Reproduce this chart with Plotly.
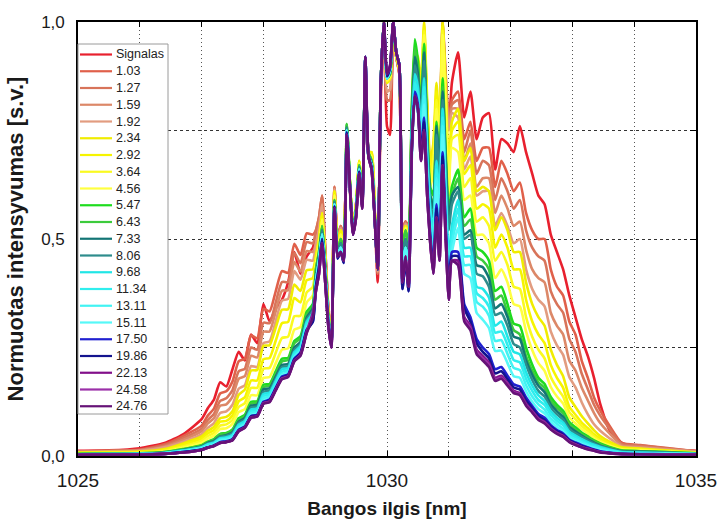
import plotly.graph_objects as go

# Wavelength grid [nm]
wavelength = [1025.0, 1025.5, 1026.0, 1026.4, 1026.7,
              1027.0, 1027.1, 1027.2, 1027.3, 1027.4, 1027.5, 1027.6, 1027.7, 1027.8, 1027.9,
              1028.0, 1028.1, 1028.2, 1028.3, 1028.4, 1028.5, 1028.6, 1028.7, 1028.8,
              1028.85, 1028.9, 1028.95, 1029.0, 1029.05, 1029.1, 1029.15, 1029.2, 1029.25, 1029.3,
              1029.35, 1029.4, 1029.45, 1029.5, 1029.55, 1029.6, 1029.65, 1029.7, 1029.75, 1029.8,
              1029.85, 1029.9, 1029.95, 1030.0, 1030.05, 1030.1, 1030.15, 1030.2, 1030.25, 1030.3,
              1030.35, 1030.4, 1030.45, 1030.5, 1030.55, 1030.6, 1030.65, 1030.7, 1030.75, 1030.8,
              1030.85, 1030.9, 1030.95, 1031.0, 1031.05,
              1031.15, 1031.25, 1031.35, 1031.45, 1031.55, 1031.65, 1031.75, 1031.85, 1031.95,
              1032.05, 1032.15, 1032.25, 1032.35, 1032.45, 1032.55, 1032.65, 1032.75, 1032.85,
              1032.95, 1033.05, 1033.15, 1033.25, 1033.35, 1033.45,
              1033.6, 1033.8, 1034.1, 1034.5, 1035.0]

# Normalised intensity of each spectrum
i_signalas = [0.012, 0.013, 0.018, 0.03, 0.05, 0.085, 0.11, 0.13, 0.17, 0.16, 0.20, 0.24, 0.22, 0.28, 0.26, 0.35, 0.31, 0.34, 0.36, 0.40, 0.47, 0.42, 0.46, 0.48,
              0.51, 0.54, 0.58, 0.47, 0.34, 0.27, 0.61, 0.50, 0.53, 0.50, 0.72, 0.61, 0.53, 0.57, 0.65, 0.60, 0.88, 0.70, 0.68, 0.55, 0.40, 0.82, 1.0, 0.76, 0.74, 1.0, 0.92, 0.88, 0.52, 0.54, 0.53,
              0.74, 0.85, 0.84, 0.82, 0.93, 0.78, 0.66, 0.68, 0.80, 0.74, 0.95, 0.85, 0.76, 0.86,
              0.93, 0.78, 0.84, 0.73, 0.78, 0.79, 0.66, 0.73, 0.72, 0.70, 0.76, 0.70, 0.65, 0.60, 0.58, 0.51, 0.47, 0.43, 0.37, 0.32, 0.27, 0.23, 0.18, 0.12, 0.06, 0.03, 0.02, 0.015, 0.012]
i_103 = [0.010, 0.012, 0.015, 0.027, 0.046, 0.07, 0.093, 0.109, 0.144, 0.149, 0.172, 0.218, 0.224, 0.278, 0.271, 0.339, 0.333, 0.38, 0.426, 0.422, 0.489, 0.463, 0.513, 0.51,
         0.52, 0.55, 0.60, 0.48, 0.34, 0.27, 0.62, 0.50, 0.53, 0.51, 0.73, 0.62, 0.53, 0.58, 0.66, 0.60, 0.89, 0.70, 0.69, 0.56, 0.42, 0.85, 1.0, 0.82, 0.82, 1.0, 0.92, 0.88, 0.52, 0.54, 0.53,
         0.76, 0.88, 0.87, 0.84, 0.96, 0.80, 0.67, 0.70, 0.83, 0.76, 1.0, 0.88, 0.78, 0.82,
         0.84, 0.73, 0.77, 0.68, 0.71, 0.71, 0.62, 0.68, 0.65, 0.61, 0.63, 0.56, 0.52, 0.50, 0.50, 0.43, 0.39, 0.37, 0.31, 0.28, 0.22, 0.18, 0.135, 0.105, 0.07, 0.03, 0.025, 0.019, 0.011]
i_127 = [0.010, 0.012, 0.014, 0.024, 0.041, 0.063, 0.083, 0.097, 0.127, 0.133, 0.152, 0.195, 0.201, 0.25, 0.245, 0.307, 0.306, 0.354, 0.401, 0.401, 0.468, 0.444, 0.493, 0.49,
         0.52, 0.55, 0.60, 0.48, 0.34, 0.27, 0.62, 0.50, 0.53, 0.51, 0.73, 0.62, 0.53, 0.58, 0.66, 0.60, 0.89, 0.70, 0.69, 0.56, 0.42, 0.85, 1.0, 0.82, 0.82, 1.0, 0.92, 0.88, 0.52, 0.54, 0.53,
         0.75, 0.87, 0.86, 0.83, 0.95, 0.79, 0.66, 0.69, 0.82, 0.75, 0.99, 0.87, 0.77, 0.81,
         0.82, 0.70, 0.75, 0.65, 0.68, 0.67, 0.59, 0.64, 0.61, 0.57, 0.59, 0.52, 0.48, 0.46, 0.45, 0.38, 0.35, 0.33, 0.27, 0.24, 0.19, 0.154, 0.118, 0.093, 0.063, 0.028, 0.024, 0.018, 0.011]
i_159 = [0.009, 0.011, 0.013, 0.022, 0.037, 0.057, 0.075, 0.087, 0.116, 0.119, 0.137, 0.178, 0.184, 0.231, 0.227, 0.286, 0.287, 0.334, 0.381, 0.382, 0.447, 0.425, 0.472, 0.47,
         0.49, 0.525, 0.58, 0.47, 0.335, 0.27, 0.615, 0.495, 0.525, 0.505, 0.74, 0.625, 0.53, 0.58, 0.67, 0.60, 0.895, 0.70, 0.695, 0.565, 0.425, 0.855, 1.0, 0.84, 0.845, 1.0, 0.92, 0.885, 0.51, 0.535, 0.525,
         0.74, 0.86, 0.85, 0.82, 0.94, 0.78, 0.65, 0.68, 0.81, 0.74, 0.98, 0.86, 0.76, 0.80,
         0.80, 0.68, 0.72, 0.62, 0.64, 0.64, 0.56, 0.60, 0.57, 0.53, 0.54, 0.475, 0.43, 0.41, 0.40, 0.33, 0.30, 0.28, 0.22, 0.197, 0.158, 0.128, 0.099, 0.076, 0.052, 0.025, 0.021, 0.016, 0.010]
i_192 = [0.009, 0.010, 0.012, 0.02, 0.033, 0.05, 0.065, 0.076, 0.099, 0.103, 0.118, 0.155, 0.163, 0.207, 0.205, 0.26, 0.264, 0.311, 0.358, 0.362, 0.426, 0.406, 0.452, 0.45,
         0.49, 0.525, 0.58, 0.47, 0.335, 0.27, 0.615, 0.495, 0.525, 0.505, 0.74, 0.625, 0.53, 0.58, 0.67, 0.60, 0.895, 0.70, 0.695, 0.565, 0.425, 0.855, 1.0, 0.84, 0.845, 1.0, 0.92, 0.885, 0.51, 0.535, 0.525,
         0.73, 0.85, 0.84, 0.81, 0.93, 0.77, 0.64, 0.67, 0.80, 0.73, 0.97, 0.85, 0.75, 0.79,
         0.78, 0.66, 0.69, 0.60, 0.61, 0.61, 0.53, 0.56, 0.53, 0.49, 0.50, 0.43, 0.385, 0.36, 0.345, 0.287, 0.255, 0.233, 0.182, 0.158, 0.124, 0.096, 0.073, 0.058, 0.041, 0.022, 0.019, 0.015, 0.010]
i_234 = [0.008, 0.009, 0.010, 0.016, 0.029, 0.045, 0.058, 0.067, 0.087, 0.09, 0.103, 0.141, 0.153, 0.197, 0.198, 0.254, 0.255, 0.296, 0.337, 0.338, 0.395, 0.38, 0.428, 0.43,
         0.46, 0.50, 0.56, 0.46, 0.33, 0.27, 0.61, 0.49, 0.52, 0.50, 0.75, 0.63, 0.53, 0.58, 0.68, 0.60, 0.90, 0.70, 0.70, 0.57, 0.43, 0.86, 1.0, 0.86, 0.87, 1.0, 0.92, 0.89, 0.50, 0.53, 0.52,
         0.79, 0.93, 0.92, 0.86, 1.0, 0.82, 0.68, 0.72, 0.86, 0.76, 1.0, 0.85, 0.66, 0.77,
         0.80, 0.68, 0.71, 0.61, 0.62, 0.61, 0.52, 0.55, 0.52, 0.47, 0.47, 0.40, 0.35, 0.32, 0.30, 0.245, 0.21, 0.184, 0.135, 0.113, 0.092, 0.075, 0.059, 0.046, 0.033, 0.02, 0.017, 0.013, 0.008]
i_292 = [0.007, 0.008, 0.009, 0.014, 0.026, 0.04, 0.052, 0.06, 0.079, 0.081, 0.093, 0.126, 0.135, 0.174, 0.174, 0.223, 0.226, 0.266, 0.306, 0.309, 0.364, 0.354, 0.405, 0.41,
         0.46, 0.50, 0.56, 0.46, 0.33, 0.27, 0.61, 0.49, 0.52, 0.50, 0.75, 0.63, 0.53, 0.58, 0.68, 0.60, 0.90, 0.70, 0.70, 0.57, 0.43, 0.86, 1.0, 0.86, 0.87, 1.0, 0.92, 0.89, 0.50, 0.53, 0.52,
         0.77, 0.91, 0.90, 0.84, 0.99, 0.80, 0.66, 0.70, 0.84, 0.74, 0.99, 0.83, 0.64, 0.75,
         0.77, 0.65, 0.67, 0.57, 0.58, 0.57, 0.48, 0.51, 0.48, 0.43, 0.43, 0.36, 0.31, 0.28, 0.26, 0.21, 0.18, 0.157, 0.113, 0.095, 0.077, 0.064, 0.05, 0.04, 0.029, 0.018, 0.016, 0.012, 0.008]
i_364 = [0.006, 0.007, 0.008, 0.012, 0.022, 0.035, 0.046, 0.053, 0.07, 0.073, 0.083, 0.113, 0.122, 0.157, 0.157, 0.201, 0.203, 0.238, 0.272, 0.275, 0.322, 0.323, 0.377, 0.39,
         0.445, 0.485, 0.545, 0.45, 0.325, 0.265, 0.60, 0.48, 0.51, 0.49, 0.757, 0.63, 0.525, 0.575, 0.675, 0.595, 0.905, 0.70, 0.69, 0.565, 0.43, 0.86, 1.0, 0.865, 0.875, 1.0, 0.925, 0.895, 0.49, 0.525, 0.505,
         0.75, 0.89, 0.88, 0.82, 0.98, 0.78, 0.64, 0.68, 0.82, 0.72, 0.98, 0.81, 0.62, 0.73,
         0.74, 0.62, 0.64, 0.54, 0.55, 0.53, 0.45, 0.47, 0.44, 0.39, 0.385, 0.32, 0.275, 0.245, 0.225, 0.182, 0.157, 0.137, 0.101, 0.085, 0.069, 0.058, 0.045, 0.035, 0.025, 0.016, 0.014, 0.011, 0.007]
i_456 = [0.005, 0.006, 0.007, 0.01, 0.019, 0.03, 0.04, 0.047, 0.062, 0.064, 0.074, 0.101, 0.108, 0.14, 0.14, 0.18, 0.182, 0.214, 0.245, 0.248, 0.291, 0.297, 0.354, 0.37,
         0.445, 0.485, 0.545, 0.45, 0.325, 0.265, 0.60, 0.48, 0.51, 0.49, 0.757, 0.63, 0.525, 0.575, 0.675, 0.595, 0.905, 0.70, 0.69, 0.565, 0.43, 0.86, 1.0, 0.865, 0.875, 1.0, 0.925, 0.895, 0.49, 0.525, 0.505,
         0.73, 0.87, 0.86, 0.80, 0.97, 0.76, 0.62, 0.66, 0.80, 0.70, 0.97, 0.79, 0.60, 0.71,
         0.70, 0.59, 0.60, 0.51, 0.51, 0.49, 0.41, 0.43, 0.40, 0.35, 0.345, 0.287, 0.244, 0.214, 0.196, 0.159, 0.137, 0.121, 0.089, 0.075, 0.062, 0.052, 0.041, 0.032, 0.024, 0.015, 0.013, 0.010, 0.007]
i_547 = [0.005, 0.0055, 0.006, 0.009, 0.016, 0.025, 0.033, 0.039, 0.051, 0.053, 0.061, 0.087, 0.095, 0.125, 0.126, 0.164, 0.166, 0.195, 0.224, 0.226, 0.265, 0.276, 0.332, 0.35,
         0.43, 0.47, 0.53, 0.44, 0.32, 0.26, 0.59, 0.47, 0.50, 0.48, 0.765, 0.63, 0.52, 0.57, 0.67, 0.59, 0.91, 0.70, 0.68, 0.56, 0.43, 0.86, 1.0, 0.87, 0.88, 1.0, 0.93, 0.90, 0.48, 0.52, 0.49,
         0.80, 0.96, 0.91, 0.80, 0.95, 0.76, 0.62, 0.60, 0.77, 0.68, 0.87, 0.70, 0.56, 0.62,
         0.66, 0.55, 0.57, 0.48, 0.47, 0.45, 0.38, 0.39, 0.35, 0.305, 0.30, 0.25, 0.21, 0.18, 0.166, 0.136, 0.118, 0.104, 0.078, 0.066, 0.054, 0.045, 0.036, 0.029, 0.021, 0.013, 0.011, 0.009, 0.006]
i_643 = [0.005, 0.0055, 0.006, 0.009, 0.015, 0.024, 0.032, 0.037, 0.05, 0.051, 0.059, 0.083, 0.092, 0.121, 0.123, 0.159, 0.162, 0.19, 0.218, 0.221, 0.26, 0.271, 0.326, 0.345,
         0.43, 0.47, 0.53, 0.44, 0.32, 0.26, 0.59, 0.47, 0.50, 0.48, 0.765, 0.63, 0.52, 0.57, 0.67, 0.59, 0.91, 0.70, 0.68, 0.56, 0.43, 0.86, 1.0, 0.87, 0.88, 1.0, 0.93, 0.90, 0.48, 0.52, 0.49,
         0.78, 0.94, 0.89, 0.78, 0.93, 0.74, 0.60, 0.58, 0.75, 0.66, 0.85, 0.68, 0.54, 0.60,
         0.64, 0.53, 0.545, 0.46, 0.45, 0.43, 0.36, 0.37, 0.33, 0.29, 0.28, 0.23, 0.197, 0.17, 0.157, 0.128, 0.111, 0.098, 0.073, 0.061, 0.05, 0.042, 0.034, 0.027, 0.019, 0.012, 0.011, 0.009, 0.006]
i_733 = [0.004, 0.0045, 0.005, 0.008, 0.014, 0.022, 0.03, 0.035, 0.045, 0.048, 0.055, 0.079, 0.088, 0.116, 0.118, 0.154, 0.156, 0.183, 0.21, 0.212, 0.25, 0.263, 0.319, 0.34,
         0.415, 0.46, 0.52, 0.43, 0.315, 0.26, 0.585, 0.465, 0.49, 0.47, 0.757, 0.625, 0.515, 0.565, 0.665, 0.585, 0.915, 0.695, 0.675, 0.555, 0.43, 0.86, 1.0, 0.87, 0.885, 1.0, 0.93, 0.90, 0.46, 0.50, 0.47,
         0.77, 0.92, 0.88, 0.78, 0.93, 0.73, 0.60, 0.57, 0.76, 0.66, 0.84, 0.68, 0.54, 0.60,
         0.62, 0.51, 0.52, 0.44, 0.435, 0.41, 0.34, 0.35, 0.32, 0.275, 0.27, 0.22, 0.187, 0.162, 0.147, 0.119, 0.103, 0.09, 0.067, 0.057, 0.047, 0.038, 0.031, 0.024, 0.017, 0.011, 0.01, 0.008, 0.005]
i_806 = [0.004, 0.0045, 0.005, 0.008, 0.013, 0.021, 0.029, 0.033, 0.044, 0.046, 0.053, 0.076, 0.084, 0.112, 0.114, 0.148, 0.151, 0.178, 0.205, 0.207, 0.244, 0.258, 0.314, 0.335,
         0.415, 0.46, 0.52, 0.43, 0.315, 0.26, 0.585, 0.465, 0.49, 0.47, 0.757, 0.625, 0.515, 0.565, 0.665, 0.585, 0.915, 0.695, 0.675, 0.555, 0.43, 0.86, 1.0, 0.87, 0.885, 1.0, 0.93, 0.90, 0.46, 0.50, 0.47,
         0.75, 0.90, 0.86, 0.76, 0.91, 0.71, 0.58, 0.55, 0.74, 0.64, 0.82, 0.66, 0.52, 0.58,
         0.61, 0.50, 0.51, 0.42, 0.414, 0.39, 0.325, 0.33, 0.30, 0.258, 0.25, 0.21, 0.175, 0.15, 0.137, 0.112, 0.096, 0.084, 0.062, 0.052, 0.044, 0.036, 0.029, 0.023, 0.017, 0.01, 0.009, 0.007, 0.005]
i_968 = [0.004, 0.0045, 0.005, 0.007, 0.013, 0.02, 0.027, 0.031, 0.041, 0.043, 0.049, 0.072, 0.081, 0.107, 0.11, 0.143, 0.146, 0.173, 0.20, 0.203, 0.239, 0.254, 0.309, 0.33,
         0.40, 0.45, 0.51, 0.42, 0.31, 0.26, 0.58, 0.46, 0.48, 0.46, 0.75, 0.62, 0.51, 0.56, 0.66, 0.58, 0.92, 0.69, 0.67, 0.55, 0.43, 0.86, 1.0, 0.87, 0.89, 1.0, 0.93, 0.90, 0.44, 0.48, 0.45,
         0.74, 0.88, 0.85, 0.75, 0.87, 0.70, 0.57, 0.52, 0.68, 0.60, 0.80, 0.62, 0.46, 0.53,
         0.59, 0.48, 0.48, 0.39, 0.385, 0.365, 0.30, 0.31, 0.275, 0.24, 0.234, 0.193, 0.162, 0.14, 0.127, 0.103, 0.088, 0.077, 0.056, 0.047, 0.039, 0.032, 0.026, 0.021, 0.015, 0.009, 0.008, 0.007, 0.005]
i_1134 = [0.004, 0.0045, 0.005, 0.007, 0.012, 0.019, 0.026, 0.029, 0.039, 0.04, 0.046, 0.068, 0.077, 0.103, 0.105, 0.138, 0.142, 0.168, 0.194, 0.198, 0.234, 0.249, 0.304, 0.325,
          0.40, 0.45, 0.51, 0.42, 0.31, 0.26, 0.58, 0.46, 0.48, 0.46, 0.75, 0.62, 0.51, 0.56, 0.66, 0.58, 0.92, 0.69, 0.67, 0.55, 0.43, 0.86, 1.0, 0.87, 0.89, 1.0, 0.93, 0.90, 0.44, 0.48, 0.45,
          0.72, 0.86, 0.83, 0.73, 0.85, 0.68, 0.55, 0.50, 0.66, 0.58, 0.78, 0.60, 0.44, 0.51,
          0.57, 0.46, 0.46, 0.375, 0.364, 0.344, 0.284, 0.287, 0.256, 0.221, 0.216, 0.178, 0.15, 0.129, 0.118, 0.095, 0.081, 0.071, 0.051, 0.043, 0.035, 0.028, 0.023, 0.018, 0.013, 0.008, 0.007, 0.006, 0.004]
i_1311 = [0.003, 0.0035, 0.004, 0.006, 0.011, 0.018, 0.023, 0.028, 0.037, 0.039, 0.044, 0.065, 0.074, 0.099, 0.101, 0.133, 0.137, 0.163, 0.189, 0.193, 0.229, 0.244, 0.299, 0.32,
          0.40, 0.45, 0.51, 0.42, 0.31, 0.26, 0.58, 0.46, 0.48, 0.46, 0.75, 0.62, 0.51, 0.56, 0.66, 0.58, 0.92, 0.69, 0.67, 0.55, 0.43, 0.86, 1.0, 0.87, 0.89, 1.0, 0.93, 0.90, 0.44, 0.48, 0.45,
          0.70, 0.84, 0.81, 0.71, 0.83, 0.66, 0.53, 0.48, 0.64, 0.56, 0.76, 0.58, 0.42, 0.49,
          0.55, 0.44, 0.44, 0.355, 0.344, 0.323, 0.265, 0.267, 0.235, 0.203, 0.198, 0.163, 0.137, 0.119, 0.107, 0.086, 0.074, 0.063, 0.046, 0.038, 0.031, 0.025, 0.02, 0.016, 0.012, 0.007, 0.006, 0.005, 0.004]
i_1511 = [0.003, 0.0035, 0.004, 0.006, 0.010, 0.017, 0.022, 0.026, 0.036, 0.037, 0.042, 0.062, 0.071, 0.094, 0.098, 0.127, 0.133, 0.159, 0.186, 0.19, 0.227, 0.241, 0.295, 0.315,
          0.40, 0.45, 0.51, 0.42, 0.31, 0.26, 0.58, 0.46, 0.48, 0.46, 0.75, 0.62, 0.51, 0.56, 0.66, 0.58, 0.92, 0.69, 0.67, 0.55, 0.43, 0.86, 1.0, 0.87, 0.89, 1.0, 0.93, 0.90, 0.44, 0.48, 0.45,
          0.68, 0.82, 0.79, 0.69, 0.81, 0.64, 0.51, 0.46, 0.62, 0.54, 0.74, 0.56, 0.40, 0.47,
          0.525, 0.42, 0.41, 0.33, 0.314, 0.295, 0.242, 0.243, 0.214, 0.184, 0.18, 0.149, 0.125, 0.108, 0.098, 0.079, 0.067, 0.057, 0.041, 0.034, 0.028, 0.023, 0.018, 0.014, 0.01, 0.006, 0.0055, 0.005, 0.004]
i_1750 = [0.003, 0.0035, 0.004, 0.005, 0.009, 0.015, 0.02, 0.024, 0.032, 0.034, 0.039, 0.06, 0.068, 0.092, 0.095, 0.125, 0.13, 0.157, 0.183, 0.188, 0.224, 0.238, 0.291, 0.31,
          0.39, 0.435, 0.50, 0.41, 0.305, 0.255, 0.575, 0.455, 0.47, 0.445, 0.745, 0.62, 0.51, 0.555, 0.655, 0.575, 0.92, 0.69, 0.665, 0.55, 0.43, 0.86, 1.0, 0.875, 0.895, 1.0, 0.93, 0.90, 0.385, 0.45, 0.38,
          0.71, 0.84, 0.81, 0.70, 0.78, 0.63, 0.51, 0.44, 0.58, 0.48, 0.70, 0.53, 0.39, 0.47,
          0.47, 0.35, 0.32, 0.27, 0.25, 0.235, 0.20, 0.205, 0.185, 0.165, 0.16, 0.135, 0.115, 0.097, 0.088, 0.071, 0.06, 0.052, 0.038, 0.031, 0.025, 0.02, 0.015, 0.011, 0.008, 0.005, 0.0045, 0.004, 0.003]
i_1986 = [0.003, 0.0035, 0.004, 0.005, 0.009, 0.015, 0.02, 0.024, 0.031, 0.033, 0.038, 0.059, 0.067, 0.091, 0.094, 0.123, 0.128, 0.155, 0.181, 0.186, 0.222, 0.236, 0.289, 0.31,
          0.39, 0.435, 0.50, 0.41, 0.305, 0.255, 0.575, 0.455, 0.47, 0.445, 0.745, 0.62, 0.51, 0.555, 0.655, 0.575, 0.92, 0.69, 0.665, 0.55, 0.43, 0.86, 1.0, 0.875, 0.895, 1.0, 0.93, 0.90, 0.385, 0.45, 0.38,
          0.70, 0.83, 0.80, 0.69, 0.77, 0.62, 0.50, 0.43, 0.57, 0.47, 0.69, 0.52, 0.38, 0.46,
          0.46, 0.34, 0.31, 0.26, 0.24, 0.225, 0.19, 0.195, 0.177, 0.158, 0.153, 0.128, 0.11, 0.092, 0.083, 0.068, 0.057, 0.049, 0.036, 0.029, 0.023, 0.018, 0.014, 0.01, 0.007, 0.005, 0.004, 0.0035, 0.003]
i_2213 = [0.003, 0.003, 0.003, 0.005, 0.008, 0.014, 0.019, 0.023, 0.030, 0.032, 0.037, 0.058, 0.066, 0.089, 0.092, 0.122, 0.126, 0.153, 0.179, 0.184, 0.22, 0.233, 0.286, 0.33,
          0.38, 0.42, 0.49, 0.40, 0.30, 0.25, 0.57, 0.46, 0.47, 0.45, 0.74, 0.62, 0.51, 0.55, 0.65, 0.57, 0.92, 0.69, 0.66, 0.55, 0.43, 0.86, 1.0, 0.88, 0.90, 1.0, 0.93, 0.90, 0.40, 0.46, 0.39,
          0.70, 0.83, 0.80, 0.68, 0.75, 0.60, 0.49, 0.42, 0.55, 0.45, 0.67, 0.50, 0.36, 0.45,
          0.45, 0.32, 0.30, 0.245, 0.23, 0.215, 0.18, 0.185, 0.168, 0.15, 0.145, 0.121, 0.104, 0.087, 0.079, 0.064, 0.054, 0.047, 0.034, 0.027, 0.021, 0.017, 0.013, 0.009, 0.007, 0.005, 0.004, 0.003, 0.003]
i_2458 = [0.002, 0.003, 0.003, 0.005, 0.008, 0.014, 0.019, 0.023, 0.03, 0.032, 0.037, 0.057, 0.065, 0.088, 0.091, 0.121, 0.125, 0.152, 0.178, 0.183, 0.218, 0.232, 0.284, 0.325,
          0.38, 0.42, 0.49, 0.40, 0.30, 0.25, 0.57, 0.46, 0.47, 0.45, 0.74, 0.62, 0.51, 0.55, 0.65, 0.57, 0.92, 0.69, 0.66, 0.55, 0.43, 0.86, 1.0, 0.88, 0.90, 1.0, 0.93, 0.90, 0.40, 0.46, 0.39,
          0.70, 0.83, 0.80, 0.68, 0.75, 0.60, 0.49, 0.42, 0.55, 0.45, 0.67, 0.50, 0.36, 0.45,
          0.44, 0.315, 0.295, 0.24, 0.225, 0.21, 0.176, 0.181, 0.165, 0.147, 0.142, 0.118, 0.102, 0.085, 0.077, 0.062, 0.052, 0.045, 0.033, 0.026, 0.02, 0.016, 0.012, 0.009, 0.006, 0.004, 0.004, 0.003, 0.003]
i_2476 = [0.002, 0.003, 0.003, 0.005, 0.008, 0.014, 0.019, 0.023, 0.03, 0.032, 0.036, 0.057, 0.065, 0.088, 0.091, 0.12, 0.124, 0.151, 0.177, 0.182, 0.218, 0.231, 0.283, 0.32,
          0.38, 0.42, 0.49, 0.40, 0.30, 0.25, 0.57, 0.46, 0.47, 0.45, 0.74, 0.62, 0.51, 0.55, 0.65, 0.57, 0.92, 0.69, 0.66, 0.55, 0.43, 0.86, 1.0, 0.88, 0.90, 1.0, 0.93, 0.90, 0.40, 0.46, 0.39,
          0.70, 0.83, 0.80, 0.68, 0.75, 0.60, 0.49, 0.42, 0.55, 0.45, 0.67, 0.50, 0.36, 0.45,
          0.44, 0.31, 0.29, 0.235, 0.22, 0.205, 0.173, 0.178, 0.162, 0.145, 0.14, 0.116, 0.10, 0.083, 0.075, 0.061, 0.051, 0.044, 0.032, 0.025, 0.02, 0.015, 0.012, 0.008, 0.006, 0.004, 0.004, 0.003, 0.003]

series_labels = ["Signalas", "1.03", "1.27", "1.59", "1.92", "2.34", "2.92", "3.64", "4.56",
                 "5.47", "6.43", "7.33", "8.06", "9.68", "11.34", "13.11", "15.11",
                 "17.50", "19.86", "22.13", "24.58", "24.76"]
series_values = [i_signalas, i_103, i_127, i_159, i_192, i_234, i_292, i_364, i_456,
                 i_547, i_643, i_733, i_806, i_968, i_1134, i_1311, i_1511,
                 i_1750, i_1986, i_2213, i_2458, i_2476]
series_colors = ["#E8202E", "#E0604A", "#D8745A", "#DC8868", "#E29C80",
                 "#F0EC00", "#F6F400", "#FAFA20", "#FFFF40",
                 "#1EDC1E", "#3CCB3C",
                 "#137575", "#2E8C8C",
                 "#20E6E6", "#30EEEE", "#42F3F3", "#56F8F8",
                 "#2020D0", "#14148E",
                 "#82108A", "#9B30A8", "#661277"]

FONT = "Arial, Liberation Sans, sans-serif"

fig = go.Figure()
for name, vals, col in zip(series_labels, series_values, series_colors):
    fig.add_trace(go.Scatter(x=wavelength, y=vals, name=name, mode="lines",
                             line=dict(color=col, width=2.6, shape="spline", smoothing=0.55),
                             showlegend=False))

# Hand-laid legend box (compact row spacing)
plot_l, plot_r, plot_t, plot_b = 78, 696, 22, 456
def px_x(p):
    return (p - plot_l) / (plot_r - plot_l)
def px_y(p):
    return (plot_b - p) / (plot_b - plot_t)

shapes = [dict(type="rect", xref="paper", yref="paper", layer="above",
               x0=px_x(78), x1=px_x(168), y0=px_y(414), y1=px_y(44),
               fillcolor="white", line=dict(color="#9a9a9a", width=1))]
annotations = []
row0, row_step = 54.5, 16.75
for k, (name, col) in enumerate(zip(series_labels, series_colors)):
    yy = px_y(row0 + k * row_step)
    shapes.append(dict(type="line", xref="paper", yref="paper", layer="above",
                       x0=px_x(80), x1=px_x(112), y0=yy, y1=yy,
                       line=dict(color=col, width=2.2)))
    annotations.append(dict(xref="paper", yref="paper", x=px_x(114), y=yy,
                            text=name, showarrow=False, xanchor="left", yanchor="middle",
                            font=dict(family=FONT, size=12.5, color="#222222")))

fig.update_layout(
    width=718, height=523,
    margin=dict(l=plot_l, r=718 - plot_r, t=plot_t, b=523 - plot_b, autoexpand=False),
    paper_bgcolor="white", plot_bgcolor="white",
    separators=",.",
    showlegend=False,
    font=dict(family=FONT, color="#1a1a1a"),
    shapes=shapes, annotations=annotations,
)
fig.update_xaxes(
    range=[1025, 1035], tick0=1025, dtick=5, tickformat="d", automargin=False,
    tickfont=dict(size=19, family=FONT, color="#1a1a1a"),
    ticks="inside", ticklen=5, tickcolor="black", ticklabelstandoff=6,
    showline=True, linecolor="black", linewidth=1.6, mirror="ticks",
    showgrid=True, gridcolor="#555555", gridwidth=1, griddash="1px,3px",
    minor=dict(dtick=1, tick0=1025, ticks="inside", ticklen=5, tickcolor="black",
               showgrid=True, gridcolor="#555555", gridwidth=1, griddash="1px,3px"),
    zeroline=False,
    title=dict(text="Bangos ilgis [nm]", standoff=12,
               font=dict(family=FONT, size=19, weight="bold", color="#1a1a1a")),
)
fig.update_yaxes(
    range=[0, 1], tick0=0, dtick=0.5, tickformat=".1f", automargin=False,
    tickfont=dict(size=17, family=FONT, color="#1a1a1a"),
    ticks="inside", ticklen=6, tickcolor="black", ticklabelstandoff=8,
    showline=True, linecolor="black", linewidth=1.6, mirror="ticks",
    showgrid=True, gridcolor="#333333", gridwidth=1, griddash="3px,3px",
    minor=dict(dtick=0.25, tick0=0, ticks="inside", ticklen=6, tickcolor="black",
               showgrid=True, gridcolor="#333333", gridwidth=1, griddash="3px,3px"),
    zeroline=False,
    title=dict(text="Normuotas intensyvumas [s.v.]", standoff=11,
               font=dict(family=FONT, size=22, weight="bold", color="#1a1a1a")),
)

fig.write_html("out.html")
